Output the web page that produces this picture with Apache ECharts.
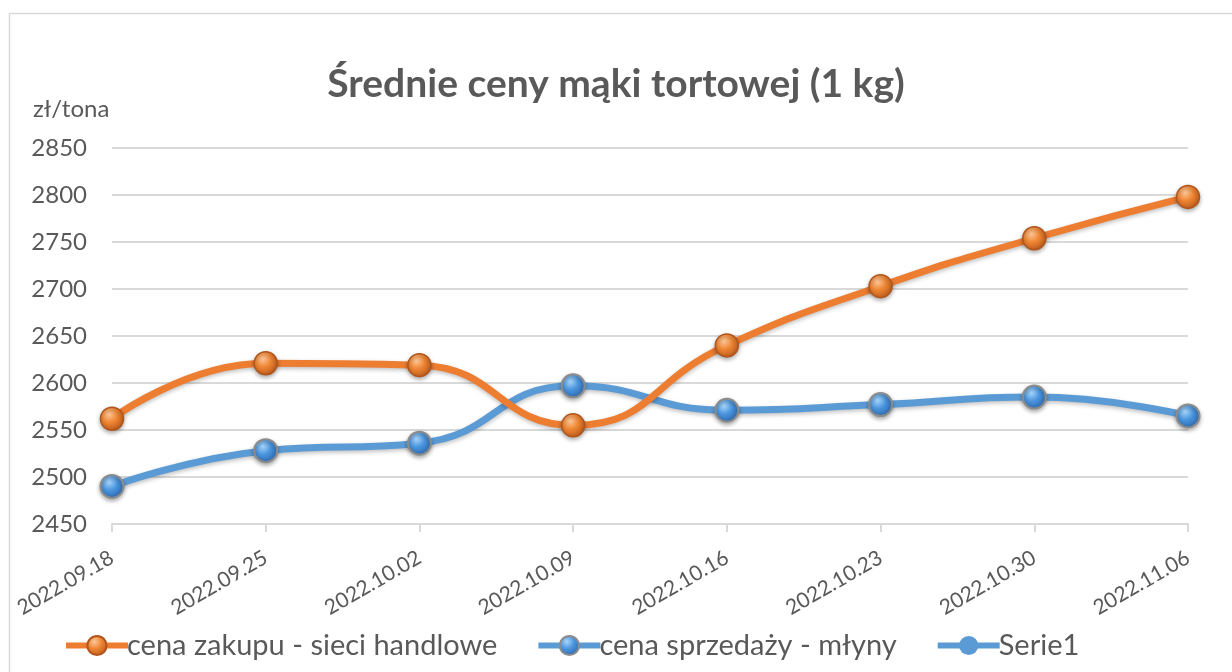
<!DOCTYPE html>
<html>
<head>
<meta charset="utf-8">
<script src="https://cdn.jsdelivr.net/npm/echarts@6/dist/echarts.min.js"></script>
<style>html,body{margin:0;padding:0;background:#fff}#c{width:1232px;height:672px}</style>
</head>
<body>
<div id="c"></div>
<script>
const categories = ['2022.09.18','2022.09.25','2022.10.02','2022.10.09','2022.10.16','2022.10.23','2022.10.30','2022.11.06'];
const zakupu = [2562, 2621, 2619, 2555, 2640, 2703, 2754, 2798];
const sprzedazy = [2490, 2528, 2536, 2597, 2571, 2577, 2585, 2565];
const serie1 = [];
const yTicks = {min: 2450, max: 2850, interval: 50};

const FONT = 'Lato';
const TXT = '#595959';

function sphere(hi, mid, edge) {
  return {type: 'radial', x: 0.38, y: 0.32, r: 0.75,
    colorStops: [{offset: 0, color: hi}, {offset: 0.45, color: mid}, {offset: 1, color: edge}]};
}

const chart = echarts.init(document.getElementById('c'));
chart.setOption({
  backgroundColor: '#ffffff',
  animation: false,
  title: {
    text: 'Średnie ceny mąki tortowej (1 kg)',
    left: 'center', top: 60,
    textStyle: {fontFamily: FONT, fontWeight: 'bold', fontSize: 39, color: TXT}
  },
  graphic: [
    {type: 'rect', shape: {x: 9.5, y: 13.5, width: 1240, height: 700}, style: {fill: 'none', stroke: '#d9d9d9', lineWidth: 1.5}, silent: true},
    {type: 'text', left: 33, top: 97, style: {text: 'zł/tona', fontFamily: FONT, fontSize: 24, fill: TXT}}
  ],
  legend: {
    bottom: 7, left: 58,
    itemWidth: 62, itemHeight: 24, itemGap: 38,
    lineStyle: {width: 6},
    textStyle: {fontFamily: FONT, fontSize: 29, color: TXT, padding: [0, 0, 0, -6]},
    data: ['cena zakupu - sieci handlowe', 'cena sprzedaży - młyny', 'Serie1']
  },
  grid: {left: 112, right: 44, top: 148, bottom: 148},
  xAxis: {
    type: 'category', boundaryGap: false, data: categories,
    axisLine: {lineStyle: {color: '#d9d9d9', width: 2}},
    axisTick: {show: true, alignWithLabel: true, length: 8, lineStyle: {color: '#d9d9d9', width: 2}},
    axisLabel: {rotate: 30, fontFamily: FONT, fontSize: 21, color: TXT, margin: 32}
  },
  yAxis: {
    type: 'value', min: yTicks.min, max: yTicks.max, interval: yTicks.interval,
    axisLine: {show: false}, axisTick: {show: false},
    splitLine: {lineStyle: {color: '#d9d9d9', width: 2}},
    axisLabel: {fontFamily: FONT, fontSize: 24, color: TXT, margin: 25, formatter: v => String(v)}
  },
  series: [
    {
      name: 'cena zakupu - sieci handlowe', type: 'line', data: zakupu, smooth: 0.5,
      symbol: 'circle', symbolSize: 23, z: 3,
      lineStyle: {color: '#ed7d31', width: 7, shadowColor: 'rgba(0,0,0,0.25)', shadowBlur: 4, shadowOffsetY: 2},
      itemStyle: {color: sphere('#fcc79a', '#ef8633', '#b6561a'), borderColor: '#b0561c', borderWidth: 1.5,
        shadowColor: 'rgba(0,0,0,0.3)', shadowBlur: 4, shadowOffsetY: 2}
    },
    {
      name: 'cena sprzedaży - młyny', type: 'line', data: sprzedazy, smooth: 0.5,
      symbol: 'circle', symbolSize: 23, z: 2,
      lineStyle: {color: '#5b9bd5', width: 7, shadowColor: 'rgba(0,0,0,0.25)', shadowBlur: 4, shadowOffsetY: 2},
      itemStyle: {color: sphere('#a8d6fa', '#4a95de', '#2a63a8'), borderColor: '#8c8c8c', borderWidth: 2,
        shadowColor: 'rgba(0,0,0,0.3)', shadowBlur: 4, shadowOffsetY: 2}
    },
    {
      name: 'Serie1', type: 'line', data: serie1,
      symbol: 'circle', symbolSize: 18,
      lineStyle: {color: '#5b9bd5', width: 6},
      itemStyle: {color: '#5b9bd5'}
    }
  ]
});
</script>
</body>
</html>
